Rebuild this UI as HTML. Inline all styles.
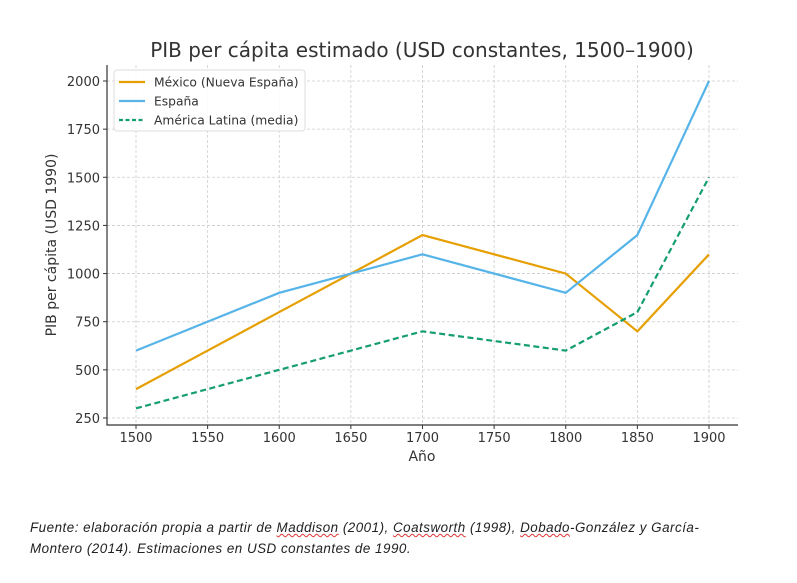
<!DOCTYPE html>
<html><head><meta charset="utf-8"><style>
body{margin:0;background:#fff;width:797px;height:583px;overflow:hidden;position:relative;font-family:"DejaVu Sans","Liberation Sans",sans-serif}
#cap{position:absolute;left:30px;top:517px;width:760px;white-space:nowrap;font-family:"Liberation Sans",sans-serif;font-style:italic;font-size:13.4px;line-height:21px;color:#222;letter-spacing:0.5px}
.sq{text-decoration:underline wavy #d33;text-decoration-thickness:1px}
</style></head><body>
<svg id="chart" width="797" height="510" style="position:absolute;left:0;top:0" font-family="DejaVu Sans, Liberation Sans, sans-serif"></svg>
<div id="cap">Fuente: elaboración propia a partir de <span class="sq">Maddison</span> (2001), <span class="sq">Coatsworth</span> (1998), <span class="sq">Dobado</span>-González y García-<br>Montero (2014). Estimaciones en USD constantes de 1990.</div>
<script>
const years=[1500,1600,1700,1800,1850,1900];
const mexico=[400,800,1200,1000,700,1100];
const espana=[600,900,1100,900,1200,2000];
const latam=[300,500,700,600,800,1500];
const xTicks=[1500,1550,1600,1650,1700,1750,1800,1850,1900];
const yTicks=[250,500,750,1000,1250,1500,1750,2000];
const NS='http://www.w3.org/2000/svg';
const svg=document.getElementById('chart');
const L=107,R=738,T=65,B=425;
const x=v=>136+(v-1500)*(709-136)/400;
const y=v=>418-(v-250)*(418-81)/1750;
function mk(tag,attrs,parent){const e=document.createElementNS(NS,tag);for(const k in attrs)e.setAttribute(k,attrs[k]);(parent||svg).appendChild(e);return e;}
xTicks.forEach(t=>{
 const g=mk('line',{x1:x(t),x2:x(t),y1:T,y2:B,stroke:'#ccc','stroke-dasharray':'3,2','stroke-width':0.8});
 
 
 mk('line',{x1:x(t),x2:x(t),y1:B,y2:B+4,stroke:'#333'});
 const tx=mk('text',{x:x(t),y:B+17,'text-anchor':'middle','font-size':13,fill:'#333'});
 tx.textContent=t;
 
 
});
yTicks.forEach(t=>{
 const g=mk('line',{x1:L,x2:R,y1:y(t),y2:y(t),stroke:'#ccc','stroke-dasharray':'3,2','stroke-width':0.8});
 
 
 mk('line',{x1:L-4,x2:L,y1:y(t),y2:y(t),stroke:'#333'});
 const tx=mk('text',{x:L-7,y:y(t)+5,'text-anchor':'end','font-size':13,fill:'#333'});
 tx.textContent=t;
 
 
});
const ax=mk('path',{d:`M${L},${T}V${B}H${R}`,fill:'none',stroke:'#333','stroke-width':1.2});


function series(vals,color,dash,name){
 const p=mk('polyline',{points:years.map((yr,i)=>x(yr)+','+y(vals[i])).join(' '),fill:'none',stroke:color,'stroke-width':2.2,'stroke-dasharray':dash||'none'});
 
 
}
series(mexico,'#E69F00',null,'mexico-line');
series(espana,'#56B4E9',null,'espana-line');
series(latam,'#159E6E','6,3.5','latam-line');
const ti=mk('text',{x:422,y:57,'text-anchor':'middle','font-size':20,fill:'#333'});
ti.textContent='PIB per cápita estimado (USD constantes, 1500–1900)';


const xl=mk('text',{x:422,y:461,'text-anchor':'middle','font-size':14,fill:'#333'});
xl.textContent='Año';


const yl=mk('text',{x:0,y:0,'text-anchor':'middle','font-size':14,fill:'#333',transform:'translate(56,245) rotate(-90)'});
yl.textContent='PIB per cápita (USD 1990)';


const lg=mk('rect',{x:114,y:70,width:191,height:61,rx:3,fill:'#fff','fill-opacity':0.85,stroke:'#ddd'});


[['México (Nueva España)','#E69F00',null],['España','#56B4E9',null],['América Latina (media)','#159E6E','4,2.5']].forEach((e,i)=>{
 const yy=82+i*19;
 mk('line',{x1:119,x2:145,y1:yy,y2:yy,stroke:e[1],'stroke-width':2.2,'stroke-dasharray':e[2]||'none'});
 const t=mk('text',{x:154,y:yy+4.5,'font-size':12.3,fill:'#333'});
 t.textContent=e[0];
 
 
});
</script>
</body></html>
